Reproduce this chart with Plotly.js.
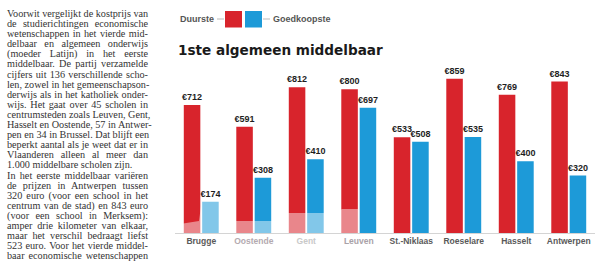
<!DOCTYPE html>
<html>
<head>
<meta charset="utf-8">
<script src="https://cdn.plot.ly/plotly-3.0.1.min.js"></script>
<style>
  html, body { margin: 0; padding: 0; background: #fff; }
  #wrap { position: relative; width: 616px; height: 261px; overflow: hidden; }
  #chart { position: absolute; left: 0; top: 0; width: 616px; height: 261px; }
  #col { position: absolute; left: 7px; top: 9px; width: 141px; z-index: 5;
         font-family: "Liberation Serif", "DejaVu Serif", serif; font-size: 10.2px;
         line-height: 10.1px; color: #333; }
  #col div { text-align: justify; text-align-last: justify; white-space: nowrap; }
  #col div.last { text-align-last: left; }
</style>
</head>
<body>
<div id="wrap">
  <div id="chart"></div>
  <div id="col"></div>
</div>
<script>
// ---- data ----
const categories = ['Brugge', 'Oostende', 'Gent', 'Leuven', 'St.-Niklaas', 'Roeselare', 'Hasselt', 'Antwerpen'];
const duurste = [712, 591, 812, 800, 533, 859, 769, 843];
const goedkoopste = [174, 308, 410, 697, 508, 535, 400, 320];
const seriesNames = ['Duurste', 'Goedkoopste'];
const chartTitle = '1ste algemeen middelbaar';
const currency = '€';
const columnLines = [
  'Voorwit vergelijkt de kostprijs van',
  'de studierichtingen economische',
  'wetenschappen in het vierde mid-',
  'delbaar en algemeen onderwijs',
  '(moeder Latijn) in het eerste',
  'middelbaar. De partij verzamelde',
  'cijfers uit 136 verschillende scho-',
  'len, zowel in het gemeenschapson-',
  'derwijs als in het katholiek onder-',
  'wijs. Het gaat over 45 scholen in',
  'centrumsteden zoals Leuven, Gent,',
  'Hasselt en Oostende, 57 in Antwer-',
  'pen en 34 in Brussel. Dat blijft een',
  'beperkt aantal als je weet dat er in',
  'Vlaanderen alleen al meer dan',
  '1.000 middelbare scholen zijn.|',
  'In het eerste middelbaar variëren',
  'de prijzen in Antwerpen tussen',
  '320 euro (voor een school in het',
  'centrum van de stad) en 843 euro',
  '(voor een school in Merksem):',
  'amper drie kilometer van elkaar,',
  'maar het verschil bedraagt liefst',
  '523 euro. Voor het vierde middel-',
  'baar economische wetenschappen'
];

// ---- styles ----
const RED = '#d8242c';
const BLUE = '#1d9ad8';
const W = 616, H = 261;
const M = { l: 175, r: 21, t: 60, b: 28 };
const PW = W - M.l - M.r, PH = H - M.t - M.b;
const px = x => (x - M.l) / PW;
const py = y => (H - M.b - y) / PH;

// text column
const col = document.getElementById('col');
columnLines.forEach(l => {
  const d = document.createElement('div');
  if (l.endsWith('|')) { d.className = 'last'; l = l.slice(0, -1); }
  d.textContent = l;
  col.appendChild(d);
});

const labelFont = { family: 'Liberation Sans, Arial, sans-serif', size: 9, color: '#1e1e1e', weight: 'bold' };

const traces = [
  { type: 'bar', name: seriesNames[0], x: categories, y: duurste,
    text: duurste.map(v => currency + v), textposition: 'outside', cliponaxis: false,
    constraintext: 'none', textfont: labelFont, marker: { color: RED }, hoverinfo: 'none' },
  { type: 'bar', name: seriesNames[1], x: categories, y: goedkoopste,
    text: goedkoopste.map(v => currency + v), textposition: 'outside', cliponaxis: false,
    constraintext: 'none', textfont: labelFont, marker: { color: BLUE }, hoverinfo: 'none' }
];

const tickColors = ['#5a5a5a', '#b4aab0', '#c9c9c9', '#a9a2a8', '#5a5a5a', '#5a5a5a', '#5a5a5a', '#5a5a5a'];
const ticktext = categories.map((c, i) => '<span style="color:' + tickColors[i] + '">' + c + '</span>');

// translucent photo overlay at the bottom-left bars
const hill = [[180, 233], [180, 224], [199, 221], [202, 199], [222, 199], [229, 221], [276, 221], [284, 213], [334, 213], [342, 209], [359, 209], [359, 233]];
const hillPath = 'M ' + hill.map(p => px(p[0]).toFixed(4) + ',' + py(p[1]).toFixed(4)).join(' L ') + ' Z';

const layout = {
  width: W, height: H,
  margin: M,
  paper_bgcolor: '#fff', plot_bgcolor: '#fff',
  barmode: 'group', bargap: 0.3, bargroupgap: 0.1,
  showlegend: false,
  title: { text: chartTitle, x: 178 / W, xanchor: 'left', xref: 'container',
           y: 1 - 50 / H, yanchor: 'middle', yref: 'container',
           font: { family: 'DejaVu Sans, sans-serif', size: 13.6, color: '#1a1a1a', weight: 'bold' } },
  xaxis: { type: 'category', tickmode: 'array', tickvals: categories, ticktext: ticktext,
           tickfont: { family: 'Liberation Sans, Arial, sans-serif', size: 8.5, weight: 'bold', color: '#5a5a5a' },
           showline: true, linecolor: '#d4d4d4', linewidth: 1, ticks: '', showgrid: false, fixedrange: true },
  yaxis: { visible: false, range: [0, 963], fixedrange: true },
  shapes: [
    { type: 'path', xref: 'paper', yref: 'paper', path: hillPath, fillcolor: 'rgba(255,255,255,0.45)', line: { width: 0 }, layer: 'above' },
    { type: 'rect', xref: 'paper', yref: 'paper', x0: px(225), x1: px(242), y0: py(27.5), y1: py(11), fillcolor: RED, line: { width: 0 } },
    { type: 'rect', xref: 'paper', yref: 'paper', x0: px(245), x1: px(262), y0: py(27.5), y1: py(11), fillcolor: BLUE, line: { width: 0 } },
    { type: 'line', xref: 'paper', yref: 'paper', x0: px(217), x1: px(224), y0: py(19), y1: py(19), line: { color: '#bbbbbb', width: 1 } },
    { type: 'line', xref: 'paper', yref: 'paper', x0: px(263), x1: px(270), y0: py(19), y1: py(19), line: { color: '#bbbbbb', width: 1 } }
  ],
  annotations: [
    { xref: 'paper', yref: 'paper', x: px(216), y: py(19), xanchor: 'right', yanchor: 'middle', showarrow: false,
      text: seriesNames[0], font: { family: 'Liberation Sans, Arial, sans-serif', size: 9, color: '#555', weight: 'bold' } },
    { xref: 'paper', yref: 'paper', x: px(271), y: py(19), xanchor: 'left', yanchor: 'middle', showarrow: false,
      text: seriesNames[1], font: { family: 'Liberation Sans, Arial, sans-serif', size: 9, color: '#555', weight: 'bold' } }
  ]
};

Plotly.newPlot('chart', traces, layout, { staticPlot: true, displayModeBar: false });
</script>
</body>
</html>
